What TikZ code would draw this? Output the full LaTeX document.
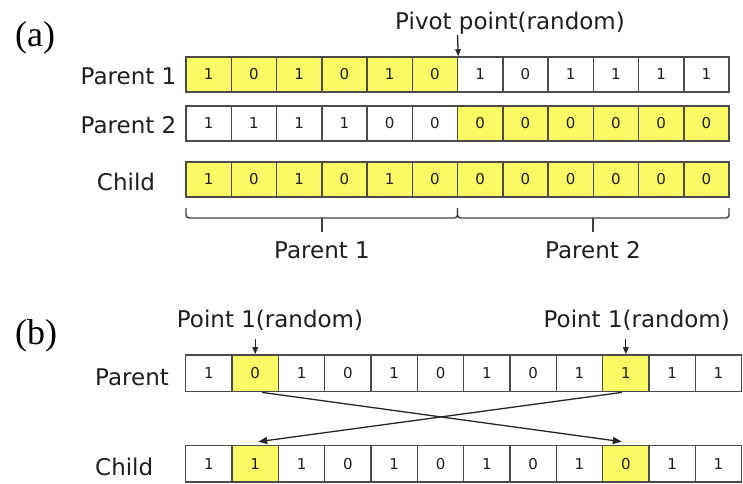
\documentclass[tikz,border=0pt]{standalone}
\usepackage{fontspec}
\setmainfont{Liberation Serif}
\newfontfamily\lblfont{DejaVu Sans}
\usetikzlibrary{arrows.meta,calc}
\definecolor{geneyellow}{RGB}{250,250,100}
\definecolor{cellline}{RGB}{75,75,75}
\definecolor{inktext}{RGB}{30,30,30}

\begin{document}
\begin{tikzpicture}[x=1pt,y=-1pt,
  cell/.style={draw=cellline, line width=1.5pt, inner sep=0pt,
    font=\lblfont\fontsize{15}{15}\selectfont, text=inktext},
  cellA/.style={cell, minimum width=45.25pt, minimum height=35pt},
  cellB/.style={cell, minimum width=46.33pt, minimum height=36.7pt},
  hi/.style={fill=geneyellow},
  lo/.style={fill=white},
  lbl/.style={font=\lblfont\fontsize{23}{27}\selectfont, text=inktext,
    inner sep=0pt},
  tag/.style={font=\fontsize{36}{40}\selectfont, text=black, inner sep=0pt,
    anchor=base west},
  conn/.style={draw=black!85, line width=1.3pt},
  tip/.style={-{Triangle[length=9pt,width=7pt]}},
  smalltip/.style={-{Triangle[length=7pt,width=5.5pt]}},
  brace/.style={draw=black!75, line width=1.4pt, rounded corners=3pt}
]
\useasboundingbox (0,0) rectangle (743,483);

% ---------- (a) one-point crossover ----------
\node[tag] (tagA) at (15,46.7) {(a)};

\foreach \v/\s [count=\i] in {1/hi,0/hi,1/hi,0/hi,1/hi,0/hi,1/lo,0/lo,1/lo,1/lo,1/lo,1/lo}
  \node[cellA,\s] (pa-\i) at ({186+45.25*(\i-0.5)},74.5) {\v};
\foreach \v/\s [count=\i] in {1/lo,1/lo,1/lo,1/lo,0/lo,0/lo,0/hi,0/hi,0/hi,0/hi,0/hi,0/hi}
  \node[cellA,\s] (pb-\i) at ({186+45.25*(\i-0.5)},123.5) {\v};
\foreach \v [count=\i] in {1,0,1,0,1,0,0,0,0,0,0,0}
  \node[cellA,hi] (ca-\i) at ({186+45.25*(\i-0.5)},179.5) {\v};

\node[lbl, anchor=base] (lp1) at (128.5,84.5) {Parent 1};
\node[lbl, anchor=base] (lp2) at (128.5,133) {Parent 2};
\node[lbl, anchor=base] (lca) at (126,190) {Child};

\node[lbl, anchor=base] (pivlbl) at (510,29) {Pivot point(random)};
\coordinate (pivtop) at (457.5,35);
\draw[conn, smalltip] (pivtop) -- (pa-6.north east);

% braces under the child
\draw[brace] (186,208) -- (186,218) -- (457.5,218) -- (457.5,208);
\draw[brace] (457.5,208) -- (457.5,218) -- (729,218) -- (729,208);
\draw[draw=black!75, line width=1.4pt] (322,218) -- (322,232);
\draw[draw=black!75, line width=1.4pt] (593,218) -- (593,232);
\node[lbl, anchor=base] (bp1) at (322,258) {Parent 1};
\node[lbl, anchor=base] (bp2) at (593,258) {Parent 2};

% ---------- (b) two-point swap ----------
\node[tag] (tagB) at (15,344) {(b)};

\foreach \v/\s [count=\i] in {1/lo,0/hi,1/lo,0/lo,1/lo,0/lo,1/lo,0/lo,1/lo,1/hi,1/lo,1/lo}
  \node[cellB,\s] (qp-\i) at ({185.7+46.33*(\i-0.5)},373.3) {\v};
\foreach \v/\s [count=\i] in {1/lo,1/hi,1/lo,0/lo,1/lo,0/lo,1/lo,0/lo,1/lo,0/hi,1/lo,1/lo}
  \node[cellB,\s] (qc-\i) at ({185.7+46.33*(\i-0.5)},463.8) {\v};

\node[lbl, anchor=base west] (lpb) at (95,385) {Parent};
\node[lbl, anchor=base west] (lcb) at (95,475) {Child};

\node[lbl, anchor=base] (pt1lbl) at (270,327) {Point 1(random)};
\node[lbl, anchor=base] (pt2lbl) at (636.7,327) {Point 1(random)};
\coordinate (pt1top) at ($(qp-2.north)+(0,-15)$);
\coordinate (pt2top) at ($(qp-10.north)+(0,-15)$);
\draw[conn, smalltip] (pt1top) -- (qp-2.north);
\draw[conn, smalltip] (pt2top) -- (qp-10.north);

% swapped genes
\draw[conn, tip] ([xshift=7pt]qp-2.south) -- ([xshift=-4pt,yshift=3pt]qc-10.north);
\draw[conn, tip] ([xshift=-4pt]qp-10.south) -- ([xshift=3pt,yshift=3pt]qc-2.north);
\end{tikzpicture}
\end{document}
